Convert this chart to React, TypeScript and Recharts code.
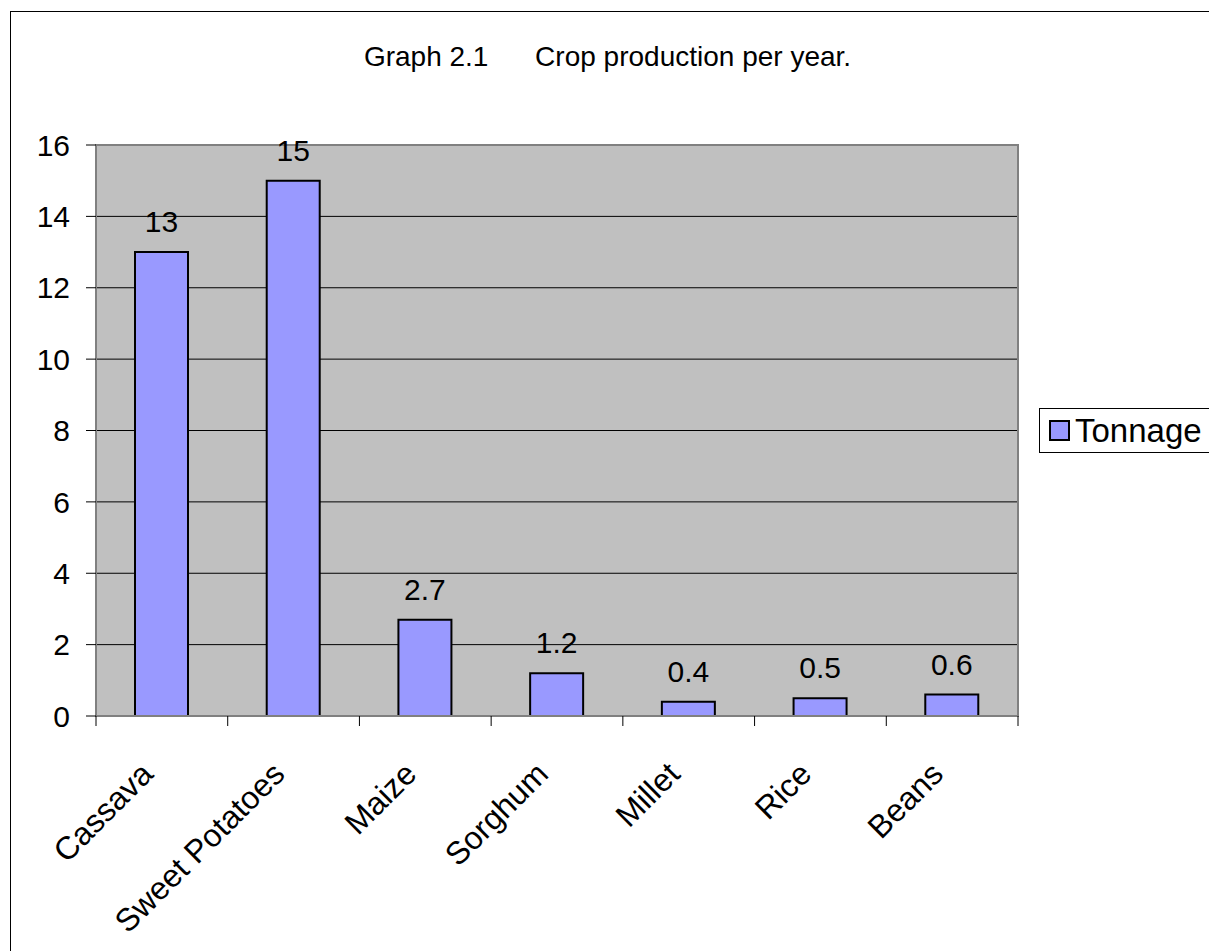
import React from 'react';
import { BarChart, Bar, XAxis, YAxis, CartesianGrid, LabelList, Legend, ReferenceArea } from 'recharts';

const crops = ['Cassava', 'Sweet Potatoes', 'Maize', 'Sorghum', 'Millet', 'Rice', 'Beans'];
const tonnage = [13, 15, 2.7, 1.2, 0.4, 0.5, 0.6];
const yTicks = [0, 2, 4, 6, 8, 10, 12, 14, 16];
const seriesName = 'Tonnage';
const titleText = 'Graph 2.1      Crop production per year.';

const data = crops.map((c, i) => ({ crop: c, Tonnage: tonnage[i] }));

const FONT = '"Liberation Sans", Arial, sans-serif';

const CategoryTick = (props: any) => {
  const { x, y, payload, index, width } = props;
  const half = typeof payload?.offset === 'number' && payload.offset > 0 ? payload.offset : width / crops.length / 2;
  const isLast = index === crops.length - 1;
  return (
    <g>
      <line x1={x - half} x2={x - half} y1={y} y2={y + 10} stroke="#000" strokeWidth={1} />
      {isLast && <line x1={x + half} x2={x + half} y1={y} y2={y + 10} stroke="#000" strokeWidth={1} />}
      <g transform={`translate(${x - 7},${y + 60})`}>
        <text x={0} y={0} textAnchor="end" transform="rotate(-45)" fontSize={32} fontFamily={FONT} fill="#000">
          {payload.value}
        </text>
      </g>
    </g>
  );
};

const LegendBox = () => (
  <div
    style={{
      width: 200,
      height: 43,
      border: '1px solid #000',
      background: '#fff',
      display: 'flex',
      alignItems: 'center',
      paddingLeft: 9,
      boxSizing: 'content-box',
      fontFamily: FONT,
    }}
  >
    <div style={{ width: 21, height: 21, border: '2px solid #000', background: '#9999FF', boxSizing: 'border-box', marginRight: 5 }} />
    <span style={{ fontSize: 33, color: '#000', lineHeight: '33px' }}>{seriesName}</span>
  </div>
);

export default function App() {
  const W = 1240;
  const H = 960;
  return (
    <div style={{ position: 'absolute', left: 0, top: 0, width: 1209, height: 951, overflow: 'hidden', background: '#fff' }}>
      <div style={{ position: 'absolute', left: 10, top: 11, width: W, height: H, border: '1px solid #000', background: '#fff' }}>
        <div
          style={{
            position: 'absolute',
            left: 0,
            top: 31,
            width: 1193,
            textAlign: 'center',
            fontFamily: FONT,
            fontSize: 28,
            lineHeight: '28px',
            whiteSpace: 'pre',
            color: '#000',
          }}
        >
          {titleText}
        </div>
        <BarChart width={W} height={H} data={data} margin={{ top: 133, right: 233, left: 0, bottom: 56 }} barSize={53}>
          <CartesianGrid vertical={false} stroke="#000" strokeWidth={1} fill="#C0C0C0" fillOpacity={1} />
          <XAxis
            dataKey="crop"
            interval={0}
            height={200}
            tickLine={false}
            tickSize={0}
            tickMargin={0}
            tick={<CategoryTick />}
            axisLine={{ stroke: '#808080', strokeWidth: 2 }}
          />
          <YAxis
            width={85}
            domain={[0, 16]}
            ticks={yTicks}
            interval={0}
            tickSize={10}
            tickMargin={16}
            tickLine={{ stroke: '#000', strokeWidth: 1 }}
            axisLine={{ stroke: '#808080', strokeWidth: 2 }}
            tick={{ fontSize: 30, fontFamily: FONT, fill: '#000' }}
          />
          <ReferenceArea y1={0} y2={16} fill="none" stroke="#808080" strokeWidth={2} ifOverflow="visible" />
          <Legend
            layout="horizontal"
            align="center"
            verticalAlign="middle"
            content={<LegendBox />}
            wrapperStyle={{ left: 1028, top: 396, width: 215 }}
          />
          <Bar dataKey="Tonnage" name={seriesName} fill="#9999FF" stroke="#000" strokeWidth={2} isAnimationActive={false}>
            <LabelList dataKey="Tonnage" position="top" offset={20} fill="#000" fontSize={30} fontFamily={FONT} />
          </Bar>
        </BarChart>
      </div>
    </div>
  );
}
